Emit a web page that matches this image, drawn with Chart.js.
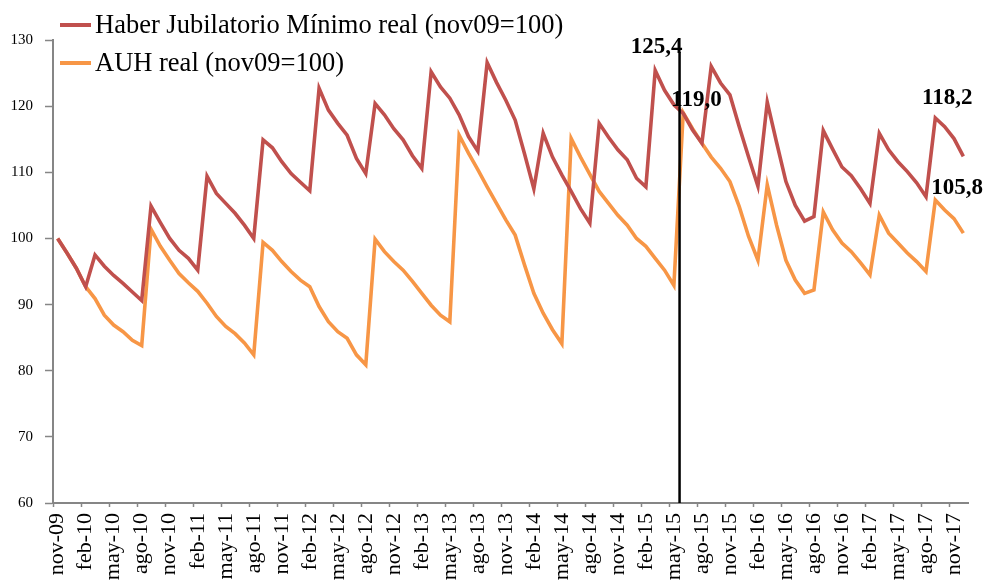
<!DOCTYPE html>
<html><head><meta charset="utf-8">
<script src="https://cdn.jsdelivr.net/npm/chart.js@4.4.1/dist/chart.umd.min.js"></script>
<style>html,body{margin:0;padding:0;background:#fff}</style>
</head><body>
<canvas id="c" width="984" height="588" style="width:984px;height:588px"></canvas>
<script>
const categories = [
 'nov-09','dic-09',
 'ene-10','feb-10','mar-10','abr-10','may-10','jun-10','jul-10','ago-10','sep-10','oct-10','nov-10','dic-10',
 'ene-11','feb-11','mar-11','abr-11','may-11','jun-11','jul-11','ago-11','sep-11','oct-11','nov-11','dic-11',
 'ene-12','feb-12','mar-12','abr-12','may-12','jun-12','jul-12','ago-12','sep-12','oct-12','nov-12','dic-12',
 'ene-13','feb-13','mar-13','abr-13','may-13','jun-13','jul-13','ago-13','sep-13','oct-13','nov-13','dic-13',
 'ene-14','feb-14','mar-14','abr-14','may-14','jun-14','jul-14','ago-14','sep-14','oct-14','nov-14','dic-14',
 'ene-15','feb-15','mar-15','abr-15','may-15','jun-15','jul-15','ago-15','sep-15','oct-15','nov-15','dic-15',
 'ene-16','feb-16','mar-16','abr-16','may-16','jun-16','jul-16','ago-16','sep-16','oct-16','nov-16','dic-16',
 'ene-17','feb-17','mar-17','abr-17','may-17','jun-17','jul-17','ago-17','sep-17','oct-17','nov-17','dic-17'
];
const haberJubilatorio = [
 100.0, 97.8,
 95.5, 92.7, 97.5, 95.8, 94.4, 93.2, 91.9, 90.6, 104.9, 102.4, 100.0, 98.2,
 97.0, 95.2, 109.4, 106.8, 105.3, 103.8, 102.0, 100.0, 114.9, 113.7, 111.6, 109.8,
 108.5, 107.2, 122.7, 119.4, 117.4, 115.6, 112.1, 109.8, 120.4, 118.7, 116.6, 114.9,
 112.5, 110.6, 125.2, 122.9, 121.2, 118.7, 115.4, 113.2, 126.6, 123.6, 120.9, 117.9,
 112.8, 107.5, 115.9, 112.3, 109.6, 107.1, 104.5, 102.3, 117.4, 115.3, 113.4, 111.9,
 109.1, 107.8, 125.4, 122.4, 120.2, 118.9, 116.4, 114.4, 126.0, 123.5, 121.7, 116.9,
 112.3, 107.9, 120.6, 114.5, 108.6, 105.0, 102.6, 103.3, 116.3, 113.5, 110.8, 109.5,
 107.5, 105.3, 115.9, 113.4, 111.6, 110.1, 108.4, 106.3, 118.2, 116.9, 115.1, 112.4
];
const auhReal = [
 100.0, 97.8,
 95.5, 92.7, 90.9, 88.4, 86.9, 85.9, 84.6, 83.8, 101.4, 98.8, 96.7, 94.7,
 93.3, 92.0, 90.2, 88.2, 86.7, 85.6, 84.2, 82.4, 99.4, 98.2, 96.5, 95.0,
 93.7, 92.7, 89.7, 87.4, 85.9, 84.9, 82.4, 80.9, 99.9, 98.0, 96.5, 95.2,
 93.5, 91.7, 89.9, 88.4, 87.4, 115.6, 112.9, 110.4, 107.8, 105.3, 102.8, 100.5,
 96.0, 91.7, 88.7, 86.2, 84.1, 115.1, 112.3, 109.7, 107.1, 105.3, 103.5, 102.0,
 100.0, 98.8, 97.0, 95.2, 92.9, 119.0, 116.6, 114.4, 112.3, 110.6, 108.6, 104.8,
 100.3, 96.7, 108.1, 102.0, 96.7, 93.7, 91.7, 92.2, 104.0, 101.3, 99.3, 98.0,
 96.3, 94.5, 103.5, 100.8, 99.3, 97.8, 96.5, 95.0, 105.8, 104.3, 103.0, 100.8
];
const seriesNames = ['Haber Jubilatorio Mínimo real (nov09=100)', 'AUH real (nov09=100)'];
const seriesColors = ['#C0504D', '#F79646'];
const yMin = 60, yMax = 130, yStep = 10;
const labelEvery = 3;
const markerAfterIndex = 66;      // vertical line between may-15 and jun-15
const markerTopValue = 128.2;
const calloutTexts = ['125,4', '119,0', '118,2', '105,8'];
const calloutRefs = [[0, 64], [1, 67], [0, 94], [1, 94]]; // [dataset, index]

const AXIS = '#868686';
const SERIF = "'Liberation Serif','Times New Roman',serif";

const calloutStyle = [
  {mode: 'marker', align: 'right', dx: 3, dy: -5},
  {align: 'left', dx: -12, dy: -13},
  {align: 'center', dx: 12, dy: -20},
  {align: 'left', dx: -4, dy: -12}
];

const overlay = {
  id: 'overlay',
  afterDatasetsDraw(chart) {
    const ctx = chart.ctx, xs = chart.scales.x, ys = chart.scales.y, area = chart.chartArea;
    const mx = (xs.getPixelForValue(markerAfterIndex) + xs.getPixelForValue(markerAfterIndex + 1)) / 2 + 1;
    const my = ys.getPixelForValue(markerTopValue);
    ctx.save();
    ctx.strokeStyle = '#000';
    ctx.lineWidth = 2.5;
    ctx.beginPath();
    ctx.moveTo(mx, my);
    ctx.lineTo(mx, area.bottom);
    ctx.stroke();
    ctx.fillStyle = '#000';
    ctx.font = "bold 23px " + SERIF;
    ctx.textBaseline = 'middle';
    calloutTexts.forEach((t, k) => {
      const st = calloutStyle[k];
      const [ds, idx] = calloutRefs[k];
      let x, y;
      if (st.mode === 'marker') { x = mx + st.dx; y = my + st.dy; }
      else {
        const el = chart.getDatasetMeta(ds).data[idx];
        x = el.x + st.dx; y = el.y + st.dy;
      }
      ctx.textAlign = st.align;
      ctx.fillText(t, x, y);
    });
    ctx.font = "26.5px " + SERIF;
    ctx.textAlign = 'left';
    const legendRows = [25, 63];
    seriesNames.forEach((name, k) => {
      const y = legendRows[k];
      ctx.strokeStyle = seriesColors[k];
      ctx.lineWidth = 4;
      ctx.beginPath();
      ctx.moveTo(60, y);
      ctx.lineTo(91, y);
      ctx.stroke();
      ctx.fillStyle = '#000';
      ctx.fillText(name, 95, y + 1);
    });
    ctx.restore();
  }
};

new Chart(document.getElementById('c'), {
  type: 'line',
  data: {
    labels: categories,
    datasets: [
      {label: seriesNames[0], data: haberJubilatorio, borderColor: seriesColors[0], backgroundColor: seriesColors[0], borderWidth: 3.6, pointRadius: 0, tension: 0},
      {label: seriesNames[1], data: auhReal, borderColor: seriesColors[1], backgroundColor: seriesColors[1], borderWidth: 3.6, pointRadius: 0, tension: 0}
    ]
  },
  options: {
    responsive: false,
    devicePixelRatio: 1,
    animation: false,
    layout: {padding: {top: 40, right: 16, left: 0, bottom: 0}},
    plugins: {legend: {display: false}, tooltip: {enabled: false}},
    scales: {
      x: {
        type: 'category',
        offset: true,
        afterFit: s => { s.height = 85; s.paddingRight = 8; },
        border: {color: AXIS, width: 2},
        grid: {
          display: true, drawOnChartArea: false, offset: true, tickLength: 4,
          tickColor: c => (c.index !== undefined && c.index % labelEvery === 0) ? AXIS : 'rgba(0,0,0,0)',
          tickWidth: 1.5
        },
        ticks: {
          autoSkip: false, maxRotation: 90, minRotation: 90, padding: 6,
          color: '#000', font: {family: SERIF, size: 22},
          callback: (v, i) => (i % labelEvery === 0) ? categories[i] : ''
        }
      },
      y: {
        min: yMin, max: yMax,
        afterFit: s => { s.width = 53; },
        border: {color: AXIS, width: 2},
        grid: {display: true, drawOnChartArea: false, tickLength: 8, tickColor: AXIS, tickWidth: 1.5},
        ticks: {stepSize: yStep, padding: 12, color: '#000', font: {family: SERIF, size: 15}}
      }
    }
  },
  plugins: [overlay]
});
</script>
</body></html>
